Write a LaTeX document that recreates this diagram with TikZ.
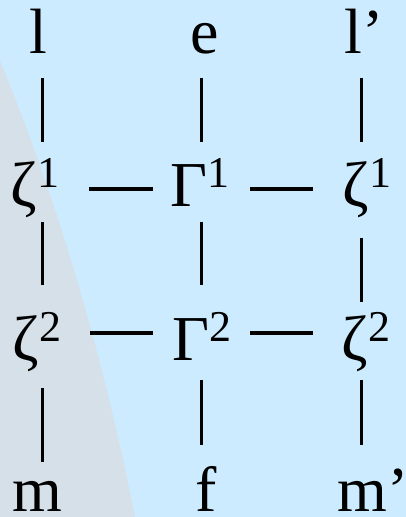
\documentclass[tikz,border=0pt]{standalone}
\usepackage{fontspec}
\setmainfont{Liberation Serif}
\definecolor{bgblue}{RGB}{205,235,254}
\definecolor{wedge}{RGB}{213,224,232}
\newcommand{\mysup}[1]{\raisebox{19pt}{\fontsize{44}{44}\selectfont #1}}
\tikzset{
  lbl/.style={inner sep=0pt, anchor=base, font=\fontsize{64}{64}\selectfont},
  vbar/.style={line width=3pt},
  hbar/.style={line width=3.6pt}
}
\begin{document}
\begin{tikzpicture}[x=1pt,y=-1pt]
\useasboundingbox (0,0) rectangle (406,517);
\fill[bgblue] (0,0) rectangle (406,517);
\fill[wedge] (0,61) .. controls (62,211) and (105,367) .. (135,517) -- (0,517) -- cycle;
% row 1
\node[lbl] (l)  at (38,53) {l};
\node[lbl] (e)  at (205,53) {e};
\node[lbl] (lp) at (364,53) {l’};
% row 2
\node[lbl] (z1a) at (35,206) {ζ\mysup{1}};
\node[lbl] (g1)  at (200,206) {Γ\mysup{1}};
\node[lbl] (z1b) at (367,206) {ζ\mysup{1}};
% row 3
\node[lbl] (z2a) at (37,360) {ζ\mysup{2}};
\node[lbl] (g2)  at (202,360) {Γ\mysup{2}};
\node[lbl] (z2b) at (366,360) {ζ\mysup{2}};
% row 4
\node[lbl] (m)  at (37,511) {m};
\node[lbl] (f)  at (206,511) {f};
\node[lbl] (mp) at (373,511) {m’};
% vertical bar ends
\coordinate (a1) at (42,78);  \coordinate (a2) at (42,142);
\coordinate (b1) at (201,78); \coordinate (b2) at (201,142);
\coordinate (c1) at (361,78); \coordinate (c2) at (361,142);
\coordinate (a3) at (42,222);  \coordinate (a4) at (42,285);
\coordinate (b3) at (201,222); \coordinate (b4) at (201,285);
\coordinate (c3) at (361,238); \coordinate (c4) at (361,302);
\coordinate (a5) at (42,388);  \coordinate (a6) at (42,462);
\coordinate (b5) at (201,380); \coordinate (b6) at (201,445);
\coordinate (c5) at (361,380); \coordinate (c6) at (361,445);
\draw[vbar] (a1) -- (a2); \draw[vbar] (b1) -- (b2); \draw[vbar] (c1) -- (c2);
\draw[vbar] (a3) -- (a4); \draw[vbar] (b3) -- (b4); \draw[vbar] (c3) -- (c4);
\draw[vbar] (a5) -- (a6); \draw[vbar] (b5) -- (b6); \draw[vbar] (c5) -- (c6);
% horizontal dashes
\coordinate (h1) at (89,189);  \coordinate (h2) at (153,189);
\coordinate (h3) at (250,189); \coordinate (h4) at (313,189);
\coordinate (h5) at (90,333);  \coordinate (h6) at (153,333);
\coordinate (h7) at (250,333); \coordinate (h8) at (313,333);
\draw[hbar] (h1) -- (h2); \draw[hbar] (h3) -- (h4);
\draw[hbar] (h5) -- (h6); \draw[hbar] (h7) -- (h8);
\end{tikzpicture}
\end{document}
